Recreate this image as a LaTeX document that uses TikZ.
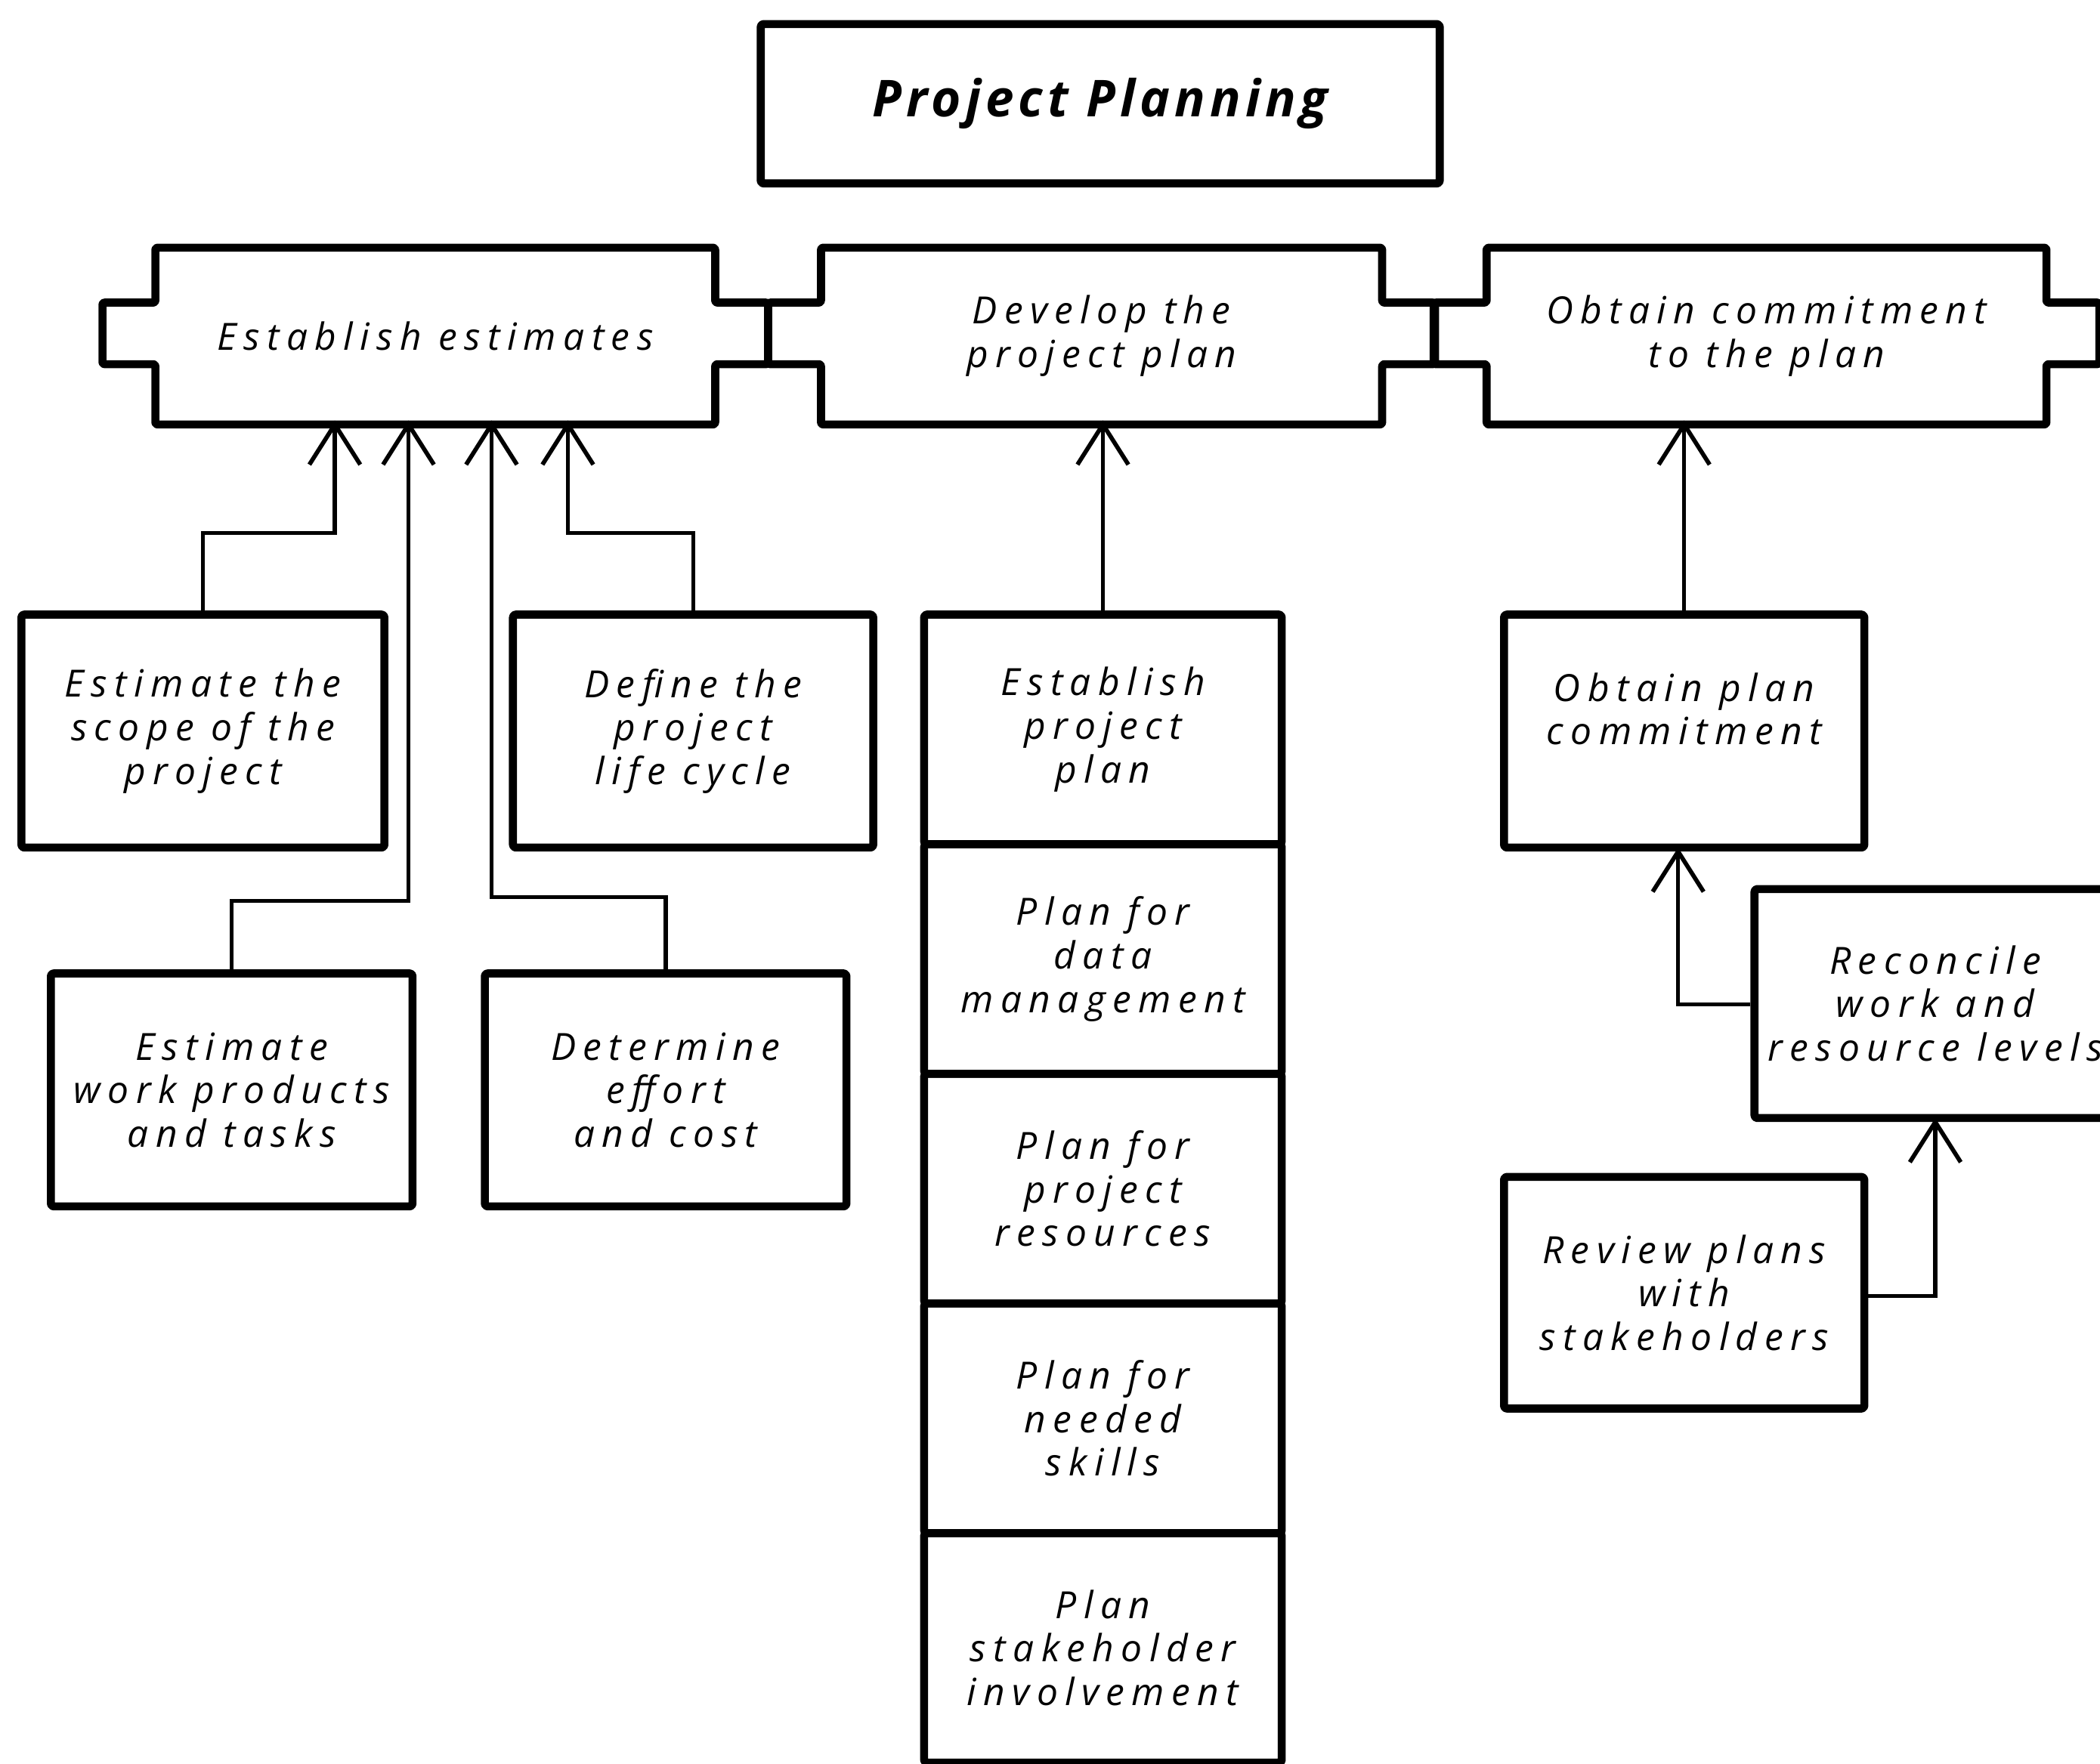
\documentclass[tikz,border=0pt]{standalone}
\usepackage{fontspec}
\setmainfont{Open Sans}
\usetikzlibrary{arrows.meta}
\newfontfamily\handfont[LetterSpace=19]{Open Sans Italic}
\newfontfamily\titlefont[LetterSpace=9]{Open Sans Bold Italic}

\tikzset{
  hand/.style={font=\handfont\fontsize{28}{32.5}\selectfont, align=center},
  stepbox/.style={draw, line width=6pt, rounded corners=2pt, line join=round,
    inner sep=0pt, hand},
  tabbox/.style={draw=none, inner sep=0pt, outer sep=0pt, hand},
  conn/.style={line width=3pt, line join=miter, shorten >=-3pt,
    -{Straight Barb[length=30pt, width=38pt, line width=3.2pt]}},
}

% rectangle with a small tab on each side
\newcommand\tabframe[1]{%
  \draw[line width=6pt, line join=round, rounded corners=1.5pt]
    (#1.north west) -- (#1.north east) -- (#1.north east |- 0,226)
    -- ++(39.5,0) -- ++(0,46) -- (#1.north east |- 0,272)
    -- (#1.south east) -- (#1.south west) -- (#1.south west |- 0,272)
    -- ++(-39.5,0) -- ++(0,-46) -- (#1.south west |- 0,226) -- cycle;}

\begin{document}
\begin{tikzpicture}[x=1pt, y=-1pt]
\useasboundingbox (0,0) rectangle (1568,1317);
\clip (0,0) rectangle (1568,1317);

% title
\node[stepbox, minimum width=507, minimum height=119,
  font=\titlefont\fontsize{38}{42}\selectfont] (title) at (821.5,77.5) {Project Planning};

% the three goals
\node[tabbox, minimum width=418, minimum height=132] (est) at (325,251) {Establish estimates};
\node[tabbox, minimum width=419, minimum height=132] (dev) at (822.5,251) {Develop the\\project plan};
\node[tabbox, minimum width=418, minimum height=132] (obt) at (1319,251) {Obtain commitment\\to the plan};
\tabframe{est}
\tabframe{dev}
\tabframe{obt}

% estimates
\node[stepbox, minimum width=271, minimum height=174] (scope) at (151.5,546) {Estimate the\\scope of the\\project};
\node[stepbox, minimum width=269, minimum height=174] (life) at (517.5,546) {Define the\\project\\life cycle};
\node[stepbox, minimum width=270, minimum height=174] (work) at (173,814) {Estimate\\work products\\and tasks};
\node[stepbox, minimum width=270, minimum height=174] (cost) at (497,814) {Determine\\effort\\and cost};

% plan development
\node[stepbox, minimum width=267, minimum height=171.5] (epp) at (823.5,544.75) {Establish\\project\\plan};
\node[stepbox, minimum width=267, minimum height=171.5] (data) at (823.5,716.25) {Plan for\\data\\management};
\node[stepbox, minimum width=267, minimum height=171.5] (res) at (823.5,887.75) {Plan for\\project\\resources};
\node[stepbox, minimum width=267, minimum height=171.5] (skill) at (823.5,1059.25) {Plan for\\needed\\skills};
\node[stepbox, minimum width=267, minimum height=171.5] (stake) at (823.5,1230.75) {Plan\\stakeholder\\involvement};

% commitment
\node[stepbox, minimum width=269, minimum height=174] (opc) at (1257.5,546) {};
\node[hand] (opct) at (1257.5,529.5) {Obtain plan\\commitment};
\node[stepbox, minimum width=270, minimum height=171] (rec) at (1445,749.5) {Reconcile\\work and\\resource levels};
\node[stepbox, minimum width=269, minimum height=173] (rev) at (1257.5,965.5) {Review plans\\with\\stakeholders};

% connectors
\coordinate (ja) at (250,398);
\coordinate (jb) at (305,673);
\coordinate (jc) at (367,670);
\coordinate (jd) at (424,398);
\coordinate (je) at (1253,750);
\coordinate (jf) at (1445,968);

\draw[conn] (scope.north) |- (ja) -- (ja |- est.south);
\draw[conn] (work.north) |- (jb) -- (jb |- est.south);
\draw[conn] (cost.north) |- (jc) -- (jc |- est.south);
\draw[conn] (life.north) |- (jd) -- (jd |- est.south);
\draw[conn] (epp.north) -- (epp.north |- dev.south);
\draw[conn] (opc.north) -- (opc.north |- obt.south);
\draw[conn] (rec.west |- je) -- (je) -- (je |- opc.south);
\draw[conn] (rev.east |- jf) -- (jf) -- (jf |- rec.south);
\end{tikzpicture}
\end{document}
